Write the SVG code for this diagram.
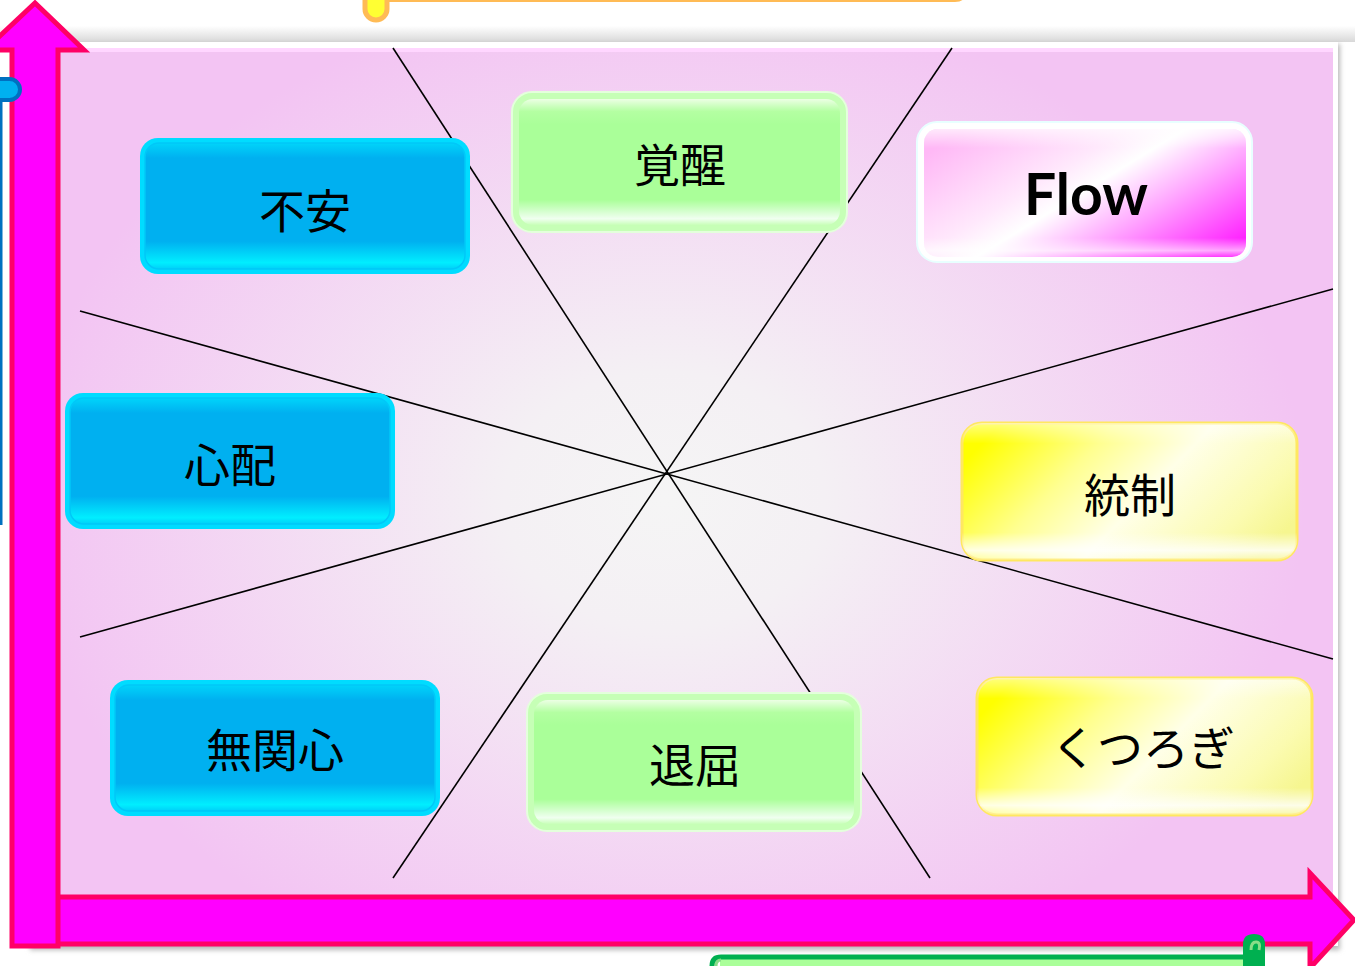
<svg xmlns="http://www.w3.org/2000/svg" width="1355" height="966" viewBox="0 0 1355 966">
<defs>
<style>
.lbl{font-family:"Noto Sans CJK JP","Noto Sans",sans-serif;font-size:46px;fill:#000;text-anchor:middle;dominant-baseline:central}
.flow{font-family:Lato,"Open Sans",sans-serif;font-weight:bold;font-size:57px;fill:#000;text-anchor:middle;dominant-baseline:central}
.ln{stroke:#000;stroke-width:1.6;fill:none}
.arr{fill:#ff00ff;stroke:#ff0066;stroke-width:5;stroke-linejoin:miter}
</style>
<radialGradient id="bg" gradientUnits="userSpaceOnUse" cx="665" cy="500" r="640" gradientTransform="translate(665 500) scale(1 0.8) translate(-665 -500)">
<stop offset="0" stop-color="#f5f5f5"/>
<stop offset="0.25" stop-color="#f4f0f4"/>
<stop offset="1" stop-color="#f3c4f3"/>
</radialGradient>
<linearGradient id="topsh" x1="0" y1="0" x2="0" y2="1">
<stop offset="0" stop-color="#ffffff"/>
<stop offset="1" stop-color="#d8d8d8"/>
</linearGradient>
<filter id="sh" x="-5%" y="-5%" width="110%" height="110%">
<feGaussianBlur stdDeviation="2.5"/>
</filter>
<linearGradient id="blueIn" x1="0" y1="0" x2="0" y2="1">
<stop offset="0" stop-color="#00d4fa"/>
<stop offset="0.12" stop-color="#00b0f0"/>
<stop offset="0.78" stop-color="#00b0f0"/>
<stop offset="0.95" stop-color="#00eeff"/>
<stop offset="1" stop-color="#00d0f8"/>
</linearGradient>
<linearGradient id="greenIn" x1="0" y1="0" x2="0" y2="1">
<stop offset="0" stop-color="#ecffe4"/>
<stop offset="0.1" stop-color="#b4ffa2"/>
<stop offset="0.2" stop-color="#aaff99"/>
<stop offset="0.8" stop-color="#aaff99"/>
<stop offset="0.95" stop-color="#f0fff0"/>
<stop offset="1" stop-color="#c8ffb8"/>
</linearGradient>
<linearGradient id="yellowIn" x1="0" y1="0.3" x2="1" y2="0.7">
<stop offset="0" stop-color="#ffff00"/>
<stop offset="0.3" stop-color="#ffff90"/>
<stop offset="0.55" stop-color="#ffffe8"/>
<stop offset="0.85" stop-color="#fbfbb0"/>
<stop offset="1" stop-color="#f6f690"/>
</linearGradient>
<linearGradient id="yellowHi" x1="0" y1="0" x2="0" y2="1">
<stop offset="0" stop-color="#ffffff" stop-opacity="0.5"/>
<stop offset="0.15" stop-color="#ffffff" stop-opacity="0"/>
<stop offset="0.8" stop-color="#ffffff" stop-opacity="0"/>
<stop offset="0.93" stop-color="#ffffff" stop-opacity="0.8"/>
<stop offset="1" stop-color="#ffffff" stop-opacity="0.2"/>
</linearGradient>
<linearGradient id="flowIn" x1="0" y1="0.2" x2="1" y2="0.85">
<stop offset="0" stop-color="#ffb8f6"/>
<stop offset="0.35" stop-color="#ffe8fc"/>
<stop offset="0.48" stop-color="#ffffff"/>
<stop offset="0.7" stop-color="#ffa4ff"/>
<stop offset="1" stop-color="#ff22ff"/>
</linearGradient>
<linearGradient id="flowHi" x1="0" y1="0" x2="0" y2="1">
<stop offset="0" stop-color="#ffffff" stop-opacity="0.7"/>
<stop offset="0.15" stop-color="#ffffff" stop-opacity="0"/>
<stop offset="0.85" stop-color="#ffffff" stop-opacity="0"/>
<stop offset="0.95" stop-color="#ffffff" stop-opacity="0.6"/>
<stop offset="1" stop-color="#ffffff" stop-opacity="0.1"/>
</linearGradient>
</defs>

<rect width="1355" height="966" fill="#ffffff"/>
<rect x="0" y="26" width="1355" height="16" fill="url(#topsh)"/>

<!-- top yellow scroll -->
<g id="scroll-top">
<path d="M375 -1 L955 -1 Q962 -1 962 -6" fill="none" stroke="#ffbb55" stroke-width="6"/>
<rect x="365" y="-12" width="22" height="32" rx="11" fill="#ffff33" stroke="#ffbb55" stroke-width="5"/>
</g>

<!-- panel -->
<rect x="30" y="44" width="1310" height="906" fill="#b8b8b8" filter="url(#sh)"/>
<rect x="30" y="42" width="1308" height="904" fill="#ffffff"/>
<rect x="57" y="48" width="1276" height="850" fill="url(#bg)"/>
<rect x="57" y="48" width="1276" height="4" fill="#ffd6ff"/>

<!-- connectors -->
<g id="connectors">
<line class="ln" x1="393" y1="48" x2="930" y2="878"/>
<line class="ln" x1="952" y1="48" x2="393" y2="878"/>
<line class="ln" x1="80" y1="311" x2="1333" y2="659"/>
<line class="ln" x1="80" y1="637" x2="1333" y2="289"/>
</g>

<!-- axes -->
<g id="x-axis">
<path class="arr" d="M55 897 L1310 897 L1310 873 L1354 920 L1310 968 L1310 944 L55 944 Z"/>
</g>
<g id="y-axis">
<path class="arr" d="M12 946 L12 50 L-15 50 L35 3 L84 50 L58 50 L58 946 Z"/>
</g>

<!-- left blue scroll -->
<g id="scroll-left">
<line x1="1" y1="95" x2="1" y2="525" stroke="#0070c0" stroke-width="3"/>
<rect x="-12" y="79" width="32" height="21" rx="10.5" fill="#00b0f0" stroke="#0070c0" stroke-width="4"/>
</g>

<!-- bottom green scroll -->
<g id="scroll-bottom">
<path d="M720 966 L720 958 L1262 958 L1262 966 Z" fill="#aaff99"/>
<path d="M712 966 Q712 957 721 957 L1250 957" fill="none" stroke="#00b050" stroke-width="5"/>
<path d="M1243 966 L1243 944 Q1243 934 1254 934 Q1265 934 1265 944 L1265 966" fill="#00b050"/>
<path d="M1251 950 q0 -8 5 -8 q5 0 3 8" fill="none" stroke="#88dd88" stroke-width="3"/>
<path d="M716 966 q0 -6 5 -6" fill="none" stroke="#88dd88" stroke-width="3"/>
</g>

<!-- nodes -->
<g id="node-fuan">
<rect x="140" y="138" width="330" height="136" rx="18" fill="#00dcff"/>
<rect x="145" y="143" width="320" height="126" rx="14" fill="url(#blueIn)" stroke="#00c8f8" stroke-width="1.5"/>
<text class="lbl" x="305" y="208">不安</text>
</g>
<g id="node-shinpai">
<rect x="65" y="393" width="330" height="136" rx="18" fill="#00dcff"/>
<rect x="70" y="398" width="320" height="126" rx="14" fill="url(#blueIn)" stroke="#00c8f8" stroke-width="1.5"/>
<text class="lbl" x="230" y="462">心配</text>
</g>
<g id="node-mukanshin">
<rect x="110" y="680" width="330" height="136" rx="18" fill="#00dcff"/>
<rect x="115" y="685" width="320" height="126" rx="14" fill="url(#blueIn)" stroke="#00c8f8" stroke-width="1.5"/>
<text class="lbl" x="275" y="747">無関心</text>
</g>
<g id="node-kakusei">
<rect x="512" y="92" width="335" height="140" rx="20" fill="#c6ffb6" stroke="#e4ffdc" stroke-width="2"/>
<rect x="519" y="99" width="321" height="126" rx="14" fill="url(#greenIn)"/>
<text class="lbl" x="680" y="162">覚醒</text>
</g>
<g id="node-taikutsu">
<rect x="527" y="693" width="334" height="138" rx="20" fill="#c6ffb6" stroke="#e4ffdc" stroke-width="2"/>
<rect x="534" y="700" width="320" height="124" rx="14" fill="url(#greenIn)"/>
<text class="lbl" x="695" y="762">退屈</text>
</g>
<g id="node-flow">
<rect x="917" y="122" width="335" height="140" rx="20" fill="#ffffff" stroke="#e8ffff" stroke-width="2"/>
<rect x="924" y="129" width="322" height="128" rx="14" fill="url(#flowIn)"/>
<rect x="924" y="129" width="322" height="128" rx="14" fill="url(#flowHi)"/>
<text class="flow" x="1086" y="193">Flow</text>
</g>
<g id="node-tousei">
<rect x="962" y="423" width="335" height="137" rx="20" fill="url(#yellowIn)" stroke="#ffe860" stroke-width="3"/>
<rect x="962" y="423" width="335" height="137" rx="20" fill="url(#yellowHi)"/>
<text class="lbl" x="1130" y="492">統制</text>
</g>
<g id="node-kutsurogi">
<rect x="977" y="678" width="335" height="137" rx="20" fill="url(#yellowIn)" stroke="#ffe860" stroke-width="3"/>
<rect x="977" y="678" width="335" height="137" rx="20" fill="url(#yellowHi)"/>
<text class="lbl" x="1143" y="745">くつろぎ</text>
</g>
</svg>
